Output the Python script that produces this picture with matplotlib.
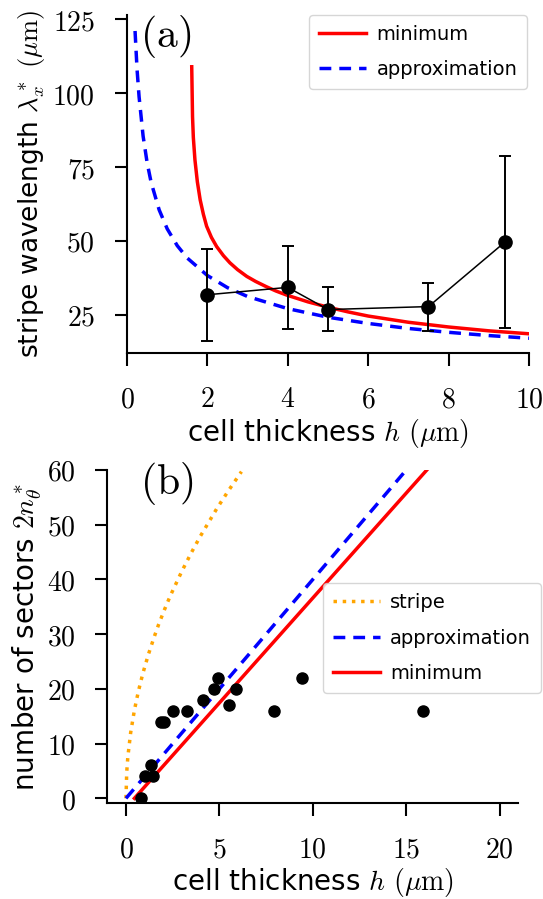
import matplotlib
matplotlib.use('Agg')
import matplotlib.pyplot as plt
from matplotlib.ticker import FuncFormatter

plt.rcParams['font.family'] = ['DejaVu Sans']
plt.rcParams['mathtext.fontset'] = 'cm'

# panel (a): stripe wavelength vs thickness
min_h_a = [1.61, 1.63, 1.65, 1.69, 1.75, 1.82, 1.9, 1.98, 2.1, 2.23, 2.4, 2.56,
           2.75, 2.98, 3.2, 3.47, 3.7, 3.97, 4.5, 5.0, 5.5, 6.0, 7.0, 8.0, 9.0, 10.0]
min_lam = [108.9, 92, 85, 77.4, 70, 63.9, 59, 55, 51.2, 48.1, 45.0, 42.6,
           40.3, 38.0, 36.3, 34.5, 33.1, 31.7, 29.4, 27.6, 26.0, 24.6, 22.5, 20.9, 19.6, 18.6]
app_h_a = [0.2, 0.25, 0.3, 0.4, 0.5, 0.6, 0.8, 1.0, 1.25, 1.5, 2.0, 2.5,
           3.0, 4.0, 5.0, 6.0, 7.0, 8.0, 9.0, 10.0]
app_lam = [121, 108, 98.8, 85.5, 76.5, 69.8, 60.5, 54.1, 48.4, 44.2, 38.3, 34.2,
           31.2, 27.1, 24.2, 22.1, 20.4, 19.1, 18.0, 17.1]
exp_h = [2.0, 4.0, 5.0, 7.5, 9.4]
exp_lam = [31.8, 34.3, 26.8, 27.8, 49.6]
exp_lo = [16.2, 20.3, 19.4, 19.7, 20.4]
exp_hi = [47.2, 48.3, 34.3, 35.9, 78.7]

# panel (b): number of sectors vs thickness
stripe_h = [0, 0.04, 0.1, 0.25, 0.45, 0.66, 0.9, 1.2, 1.5, 1.74, 2.05, 2.37,
            2.7, 2.99, 3.5, 3.98, 4.4, 4.87, 5.5, 6.18]
stripe_n = [0, 4.8, 7.6, 12, 16.1, 19.5, 22.8, 26.3, 29.4, 31.7, 34.4, 37.0,
            39.4, 41.5, 44.9, 47.9, 50.3, 53.0, 56.3, 59.7]
app_h_b = [0, 15.0]
app_n = [0, 60]
min_h_b = [0.45, 16.1]
min_n = [0, 60]
sec_h = [0.8, 1.0, 1.35, 1.45, 1.9, 2.05, 2.5, 3.25, 4.1, 4.7, 4.9, 5.5, 5.9, 7.9, 9.4, 15.9]
sec_n = [0, 4, 6, 4, 14, 14, 16, 16, 18, 20, 22, 17, 20, 16, 22, 16]

mathfmt = FuncFormatter(lambda v, p: r'$%g$' % v)
DASH = (3.4, 2.3)
LEG = dict(fontsize=14, borderaxespad=0, handlelength=2.4, borderpad=0.5,
           labelspacing=0.85, handletextpad=0.55)


def style(ax):
    for s in ['top', 'right']:
        ax.spines[s].set_visible(False)
    for s in ['left', 'bottom']:
        ax.spines[s].set_linewidth(1.5)
    ax.tick_params(width=1.5, length=9, labelsize=20, pad=14)
    ax.xaxis.set_major_formatter(mathfmt)
    ax.yaxis.set_major_formatter(mathfmt)


fig = plt.figure(figsize=(5.43, 8.99), dpi=100)

ax1 = fig.add_axes([0.2339, 0.607, 0.7403, 0.3763])
ax1.plot(min_h_a, min_lam, color='red', lw=2.5, label='minimum')
ax1.plot(app_h_a, app_lam, color='blue', lw=2.5, ls='--', dashes=DASH, label='approximation')
err = [[y - l for y, l in zip(exp_lam, exp_lo)], [u - y for y, u in zip(exp_lam, exp_hi)]]
ax1.errorbar(exp_h, exp_lam, yerr=err, color='black', lw=1.1, marker='o', ms=9.5,
             capsize=4.5, elinewidth=1.4, capthick=1.4, zorder=3)
ax1.set_xlim(0, 10)
ax1.set_ylim(12.0, 126.4)
ax1.set_xticks([0, 2, 4, 6, 8, 10])
ax1.set_yticks([25, 50, 75, 100, 125])
style(ax1)
ax1.set_xlabel(r'cell thickness $h$ $(\mu\mathrm{m})$', fontsize=20, labelpad=3)
ax1.set_ylabel(r'stripe wavelength $\lambda_x^*$ $(\mu\mathrm{m})$', fontsize=19, labelpad=4)
ax1.legend(loc='upper right', bbox_to_anchor=(0.995, 1.0), **LEG)
ax1.text(0.032, 1.006, r'$\mathrm{(a)}$', transform=ax1.transAxes, fontsize=30,
         va='top', ha='left')

ax2 = fig.add_axes([0.1976, 0.1065, 0.757, 0.3707])
ax2.plot(stripe_h, stripe_n, color='orange', lw=2.5, ls=':', label='stripe')
ax2.plot(app_h_b, app_n, color='blue', lw=2.5, ls='--', dashes=DASH, label='approximation')
ax2.plot(min_h_b, min_n, color='red', lw=2.5, label='minimum')
ax2.plot(sec_h, sec_n, 'o', color='black', ms=8, zorder=3)
ax2.set_xlim(-1, 21)
ax2.set_ylim(-0.9, 60)
ax2.set_xticks([0, 5, 10, 15, 20])
ax2.set_yticks([0, 10, 20, 30, 40, 50, 60])
style(ax2)
ax2.set_xlabel(r'cell thickness $h$ $(\mu\mathrm{m})$', fontsize=20, labelpad=2)
ax2.set_ylabel(r'number of sectors $2n_\theta^*$', fontsize=20, labelpad=2)
ax2.legend(loc='lower right', bbox_to_anchor=(1.055, 0.331), **LEG)
ax2.text(0.08, 1.03, r'$\mathrm{(b)}$', transform=ax2.transAxes, fontsize=30,
         va='top', ha='left')

fig.savefig('out.png', dpi=100)
